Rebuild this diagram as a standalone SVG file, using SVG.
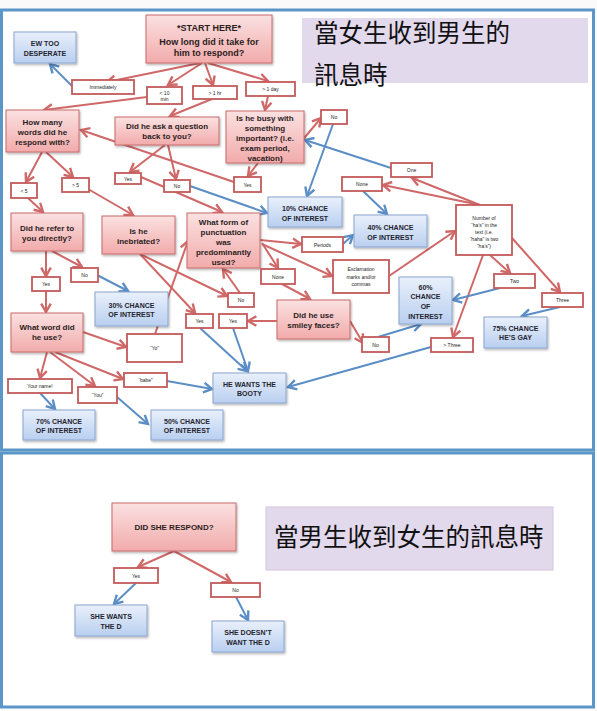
<svg xmlns="http://www.w3.org/2000/svg" width="597" height="711" viewBox="0 0 597 711">
<defs>
<linearGradient id="pink" x1="0" y1="0" x2="0" y2="1"><stop offset="0" stop-color="#fbe1e1"/><stop offset="1" stop-color="#f2abab"/></linearGradient>
<linearGradient id="blue" x1="0" y1="0" x2="0" y2="1"><stop offset="0" stop-color="#e9f0fb"/><stop offset="1" stop-color="#b9cff0"/></linearGradient>
<filter id="sh" x="-10%" y="-10%" width="130%" height="140%"><feDropShadow dx="1" dy="1.5" stdDeviation="1" flood-color="#000" flood-opacity="0.3"/></filter>
<marker id="ar" markerUnits="userSpaceOnUse" markerWidth="12" markerHeight="12" refX="8" refY="5" orient="auto" viewBox="0 0 10 10"><path d="M1,1 L8,5 L1,9" fill="none" stroke="#d06868" stroke-width="2"/></marker>
<marker id="ab" markerUnits="userSpaceOnUse" markerWidth="12" markerHeight="12" refX="8" refY="5" orient="auto" viewBox="0 0 10 10"><path d="M1,1 L8,5 L1,9" fill="none" stroke="#5b8ec6" stroke-width="2"/></marker>
<style>
.q{fill:url(#pink);stroke:#c96a6a;stroke-width:1;filter:url(#sh)}
.o{fill:url(#blue);stroke:#8aa6cf;stroke-width:1;filter:url(#sh)}
.l{fill:#fff;stroke:#c45a5a;stroke-width:1.8}
.qt{font-family:"Liberation Sans",Arial,sans-serif;font-weight:bold;font-size:8px;text-anchor:middle;fill:#2b1d1d}
.ot{font-family:"Liberation Sans",Arial,sans-serif;font-weight:bold;font-size:7px;text-anchor:middle;fill:#1f2430}
.lt{font-family:"Liberation Sans",Arial,sans-serif;font-size:5px;text-anchor:middle;fill:#222}
.tt{font-family:"Noto Sans CJK TC","Noto Sans CJK SC",sans-serif;font-size:24.5px;fill:#111}
.cr{fill:none;stroke:#d06868;stroke-width:2;marker-end:url(#ar)}
.cb{fill:none;stroke:#5b8ec6;stroke-width:2;marker-end:url(#ab)}
.fr{fill:#fff;stroke:#5a96c8;stroke-width:3}
</style>
</defs>
<rect x="0" y="0" width="597" height="711" fill="#fafafa"/>
<rect class="fr" x="1.5" y="10" width="592" height="440"/>
<rect class="fr" x="1.5" y="453" width="592" height="254"/>

<g id="connectors">
<path class="cr" d="M200,63 L107,82"/>
<path class="cr" d="M202,63 L168,85"/>
<path class="cr" d="M205,63 L213,85"/>
<path class="cr" d="M208,63 L268,81"/>
<path class="cr" d="M147,97 L44,110"/>
<path class="cr" d="M212,99 L170,116"/>
<path class="cr" d="M268,96 L265,110"/>
<path class="cr" d="M300,143 L321,118"/>
<path class="cr" d="M258,163 L248,176"/>
<path class="cr" d="M165,145 L130,172"/>
<path class="cr" d="M168,145 L176,179"/>
<path class="cr" d="M234,182 L81,130"/>
<path class="cr" d="M141,177 L222,212"/>
<path class="cr" d="M42,152 L26,182"/>
<path class="cr" d="M46,152 L73,177"/>
<path class="cr" d="M28,198 L43,212"/>
<path class="cr" d="M88,189 L133,215"/>
<path class="cr" d="M46,251 L46,276"/>
<path class="cr" d="M52,251 L82,267"/>
<path class="cr" d="M46,291 L46,312"/>
<path class="cr" d="M140,254 L227,296"/>
<path class="cr" d="M140,254 L195,313"/>
<path class="cr" d="M240,293 L223,269"/>
<path class="cr" d="M260,240 L301,244"/>
<path class="cr" d="M262,243 L278,268"/>
<path class="cr" d="M262,244 L332,276"/>
<path class="cr" d="M282,284 L310,299"/>
<path class="cr" d="M389,276 L455,231"/>
<path class="cr" d="M480,205 L412,178"/>
<path class="cr" d="M480,205 L383,185"/>
<path class="cr" d="M490,255 L510,273"/>
<path class="cr" d="M512,238 L560,292"/>
<path class="cr" d="M483,255 L453,337"/>
<path class="cr" d="M277,321 L248,321"/>
<path class="cr" d="M350,321 L363,343"/>
<path class="cr" d="M83,332 L126,347"/>
<path class="cr" d="M47,352 L40,378"/>
<path class="cr" d="M50,352 L95,386"/>
<path class="cr" d="M55,352 L123,379"/>
<path class="cr" d="M155,334 L188,241"/>
<path class="cr" d="M174,551 L138,567"/>
<path class="cr" d="M174,551 L231,582"/>
<path class="cb" d="M72,86 L50,64"/>
<path class="cb" d="M333,124 L307,196"/>
<path class="cb" d="M391,168 L305,140"/>
<path class="cb" d="M190,186 L267,213"/>
<path class="cb" d="M97,275 L128,291"/>
<path class="cb" d="M363,191 L387,214"/>
<path class="cb" d="M343,244 L353,235"/>
<path class="cb" d="M500,288 L453,300"/>
<path class="cb" d="M560,307 L522,316"/>
<path class="cb" d="M378,337 L421,324"/>
<path class="cb" d="M431,347 L288,387"/>
<path class="cb" d="M167,381 L212,389"/>
<path class="cb" d="M200,328 L247,371"/>
<path class="cb" d="M233,328 L248,371"/>
<path class="cb" d="M40,393 L55,409"/>
<path class="cb" d="M117,397 L148,424"/>
<path class="cb" d="M136,583 L114,604"/>
<path class="cb" d="M236,597 L248,620"/>
</g>

<g id="title1"><rect x="302" y="18" width="286" height="65" fill="#e3d9ed"/><text class="tt" x="314" y="42">當女生收到男生的</text><text class="tt" x="314" y="84">訊息時</text></g>
<g id="title2"><rect x="266" y="507" width="287" height="63" fill="#e3d9ed" stroke="#d2c6dd" stroke-width="1"/><text class="tt" x="274" y="546">當男生收到女生的訊息時</text></g>

<g id="start"><rect class="q" x="146" y="15" width="126" height="48"/><text class="qt" font-size="9" x="209" y="31" style="font-size:9px">*START HERE*</text><text class="qt" x="209" y="45" style="font-size:9px">How long did it take for</text><text class="qt" x="209" y="56" style="font-size:9px">him to respond?</text></g>
<g id="ew"><rect class="o" x="14" y="32" width="62" height="31"/><text class="ot" x="45" y="45.5">EW TOO</text><text class="ot" x="45" y="55.5">DESPERATE</text></g>
<g id="l-immediately"><rect class="l" x="72" y="80" width="62" height="14"/><text class="lt" x="103" y="89">Immediately</text></g>
<g id="l-10min"><rect class="l" x="147" y="87" width="35" height="17"/><text class="lt" x="164.5" y="94.5">&lt; 10</text><text class="lt" x="164.5" y="100.5">min</text></g>
<g id="l-1hr"><rect class="l" x="193" y="86" width="44" height="13"/><text class="lt" x="215" y="94.5">&gt; 1 hr</text></g>
<g id="l-1day"><rect class="l" x="246" y="82" width="49" height="14"/><text class="lt" x="270.5" y="91">&gt; 1 day</text></g>
<g id="howmany"><rect class="q" x="6" y="110" width="73" height="42"/><text class="qt" x="42.5" y="125">How many</text><text class="qt" x="42.5" y="135">words did he</text><text class="qt" x="42.5" y="144.5">respond with?</text></g>
<g id="ask"><rect class="q" x="115" y="117" width="104" height="28"/><text class="qt" x="167" y="129">Did he ask a question</text><text class="qt" x="167" y="138.5">back to you?</text></g>
<g id="busy"><rect class="q" x="226" y="111" width="78" height="52"/><text class="qt" x="265" y="121">Is he busy with</text><text class="qt" x="265" y="131">something</text><text class="qt" x="265" y="141">important? (i.e.</text><text class="qt" x="265" y="151">exam period,</text><text class="qt" x="265" y="161">vacation)</text></g>
<g id="l-busy-no"><rect class="l" x="321" y="110" width="26" height="14"/><text class="lt" x="334" y="119">No</text></g>
<g id="l-ask-yes"><rect class="l" x="115" y="173" width="26" height="11"/><text class="lt" x="128" y="180.5">Yes</text></g>
<g id="l-ask-no"><rect class="l" x="164" y="180" width="26" height="12"/><text class="lt" x="177" y="188">No</text></g>
<g id="l-busy-yes"><rect class="l" x="234" y="177" width="27" height="15"/><text class="lt" x="247.5" y="186.5">Yes</text></g>
<g id="l-lt5"><rect class="l" x="11" y="183" width="26" height="15"/><text class="lt" x="24" y="192.5">&lt; 5</text></g>
<g id="l-gt5"><rect class="l" x="62" y="178" width="27" height="14"/><text class="lt" x="75.5" y="187">&gt; 5</text></g>
<g id="refer"><rect class="q" x="11" y="213" width="72" height="38"/><text class="qt" x="47" y="231">Did he refer to</text><text class="qt" x="47" y="240.5">you directly?</text></g>
<g id="inebriated"><rect class="q" x="102" y="216" width="73" height="38"/><text class="qt" x="138.5" y="234">Is he</text><text class="qt" x="138.5" y="243.5">inebriated?</text></g>
<g id="punct"><rect class="q" x="187" y="213" width="73" height="55"/><text class="qt" x="223.5" y="225">What form of</text><text class="qt" x="223.5" y="235">punctuation</text><text class="qt" x="223.5" y="245">was</text><text class="qt" x="223.5" y="255">predominantly</text><text class="qt" x="223.5" y="265">used?</text></g>
<g id="p10"><rect class="o" x="268" y="197" width="74" height="30"/><text class="ot" x="305" y="210.5">10% CHANCE</text><text class="ot" x="305" y="220.5">OF INTEREST</text></g>
<g id="l-none-up"><rect class="l" x="342" y="177" width="40" height="14"/><text class="lt" x="362" y="186">None</text></g>
<g id="p40"><rect class="o" x="354" y="215" width="73" height="32"/><text class="ot" x="390.5" y="229.5">40% CHANCE</text><text class="ot" x="390.5" y="239.5">OF INTEREST</text></g>
<g id="l-one"><rect class="l" x="391" y="163" width="41" height="14"/><text class="lt" x="411.5" y="172">One</text></g>
<g id="numha"><rect class="l" x="456" y="205" width="56" height="50"/><text class="lt" x="484" y="220">Number of</text><text class="lt" x="484" y="227">“ha’s” in the</text><text class="lt" x="484" y="234">text (i.e.</text><text class="lt" x="484" y="241">“haha” is two</text><text class="lt" x="484" y="248">“ha’s”)</text></g>
<g id="l-periods"><rect class="l" x="302" y="237" width="41" height="15"/><text class="lt" x="322.5" y="246.5">Periods</text></g>
<g id="l-none-low"><rect class="l" x="261" y="269" width="34" height="15"/><text class="lt" x="278" y="278.5">None</text></g>
<g id="l-exclam"><rect class="l" x="333" y="260" width="56" height="33"/><text class="lt" x="361" y="270.5">Exclamation</text><text class="lt" x="361" y="278.5">marks and/or</text><text class="lt" x="361" y="286">commas</text></g>
<g id="l-two"><rect class="l" x="494" y="274" width="41" height="14"/><text class="lt" x="514.5" y="283">Two</text></g>
<g id="l-three"><rect class="l" x="542" y="293" width="41" height="14"/><text class="lt" x="562.5" y="302">Three</text></g>
<g id="p60"><rect class="o" x="399" y="277" width="53" height="47"/><text class="ot" x="425.5" y="289.5">60%</text><text class="ot" x="425.5" y="299">CHANCE</text><text class="ot" x="425.5" y="308.5">OF</text><text class="ot" x="425.5" y="318.5">INTEREST</text></g>
<g id="p75"><rect class="o" x="484" y="317" width="63" height="31"/><text class="ot" x="515.5" y="330.5">75% CHANCE</text><text class="ot" x="515.5" y="340">HE’S GAY</text></g>
<g id="l-gt3"><rect class="l" x="431" y="338" width="42" height="14"/><text class="lt" x="452" y="347">&gt; Three</text></g>
<g id="l-smiley-no"><rect class="l" x="362" y="337" width="27" height="15"/><text class="lt" x="375.5" y="346.5">No</text></g>
<g id="smiley"><rect class="q" x="277" y="300" width="73" height="39"/><text class="qt" x="313.5" y="318">Did he use</text><text class="qt" x="313.5" y="327.5">smiley faces?</text></g>
<g id="l-ineb-no"><rect class="l" x="228" y="293" width="26" height="14"/><text class="lt" x="241" y="302">No</text></g>
<g id="l-ineb-yes"><rect class="l" x="186" y="314" width="27" height="14"/><text class="lt" x="199.5" y="323">Yes</text></g>
<g id="l-smiley-yes"><rect class="l" x="219" y="314" width="28" height="14"/><text class="lt" x="233" y="323">Yes</text></g>
<g id="booty"><rect class="o" x="213" y="373" width="73" height="30"/><text class="ot" x="249.5" y="386.5">HE WANTS THE</text><text class="ot" x="249.5" y="395.5">BOOTY</text></g>
<g id="p30"><rect class="o" x="95" y="292" width="73" height="34"/><text class="ot" x="131.5" y="307.5">30% CHANCE</text><text class="ot" x="131.5" y="316.5">OF INTEREST</text></g>
<g id="l-ref-yes"><rect class="l" x="32" y="277" width="28" height="14"/><text class="lt" x="46" y="286">Yes</text></g>
<g id="l-ref-no"><rect class="l" x="71" y="268" width="27" height="14"/><text class="lt" x="84.5" y="277">No</text></g>
<g id="whatword"><rect class="q" x="11" y="313" width="72" height="39"/><text class="qt" x="47" y="330">What word did</text><text class="qt" x="47" y="340">he use?</text></g>
<g id="l-yo"><rect class="l" x="127" y="334" width="55" height="28"/><text class="lt" x="154.5" y="350">“Yo”</text></g>
<g id="l-yourname"><rect class="l" x="8" y="379" width="64" height="14"/><text class="lt" x="40" y="388">Your name!</text></g>
<g id="l-you"><rect class="l" x="78" y="387" width="39" height="16"/><text class="lt" x="97.5" y="397">“You”</text></g>
<g id="l-babe"><rect class="l" x="124" y="373" width="43" height="14"/><text class="lt" x="145.5" y="382">“babe”</text></g>
<g id="p70"><rect class="o" x="23" y="410" width="72" height="30"/><text class="ot" x="59" y="423.5">70% CHANCE</text><text class="ot" x="59" y="432.5">OF INTEREST</text></g>
<g id="p50"><rect class="o" x="151" y="410" width="72" height="30"/><text class="ot" x="187" y="423.5">50% CHANCE</text><text class="ot" x="187" y="432.5">OF INTEREST</text></g>

<g id="didshe"><rect class="q" x="112" y="503" width="124" height="48"/><text class="qt" x="174" y="530">DID SHE RESPOND?</text></g>
<g id="l-she-yes"><rect class="l" x="114" y="568" width="44" height="15"/><text class="lt" x="136" y="577.5">Yes</text></g>
<g id="l-she-no"><rect class="l" x="211" y="583" width="49" height="14"/><text class="lt" x="235.5" y="592">No</text></g>
<g id="shewants"><rect class="o" x="75" y="605" width="72" height="31"/><text class="ot" x="111" y="618.5">SHE WANTS</text><text class="ot" x="111" y="628.5">THE D</text></g>
<g id="shedoesnt"><rect class="o" x="212" y="621" width="72" height="31"/><text class="ot" x="248" y="634.5">SHE DOESN’T</text><text class="ot" x="248" y="644.5">WANT THE D</text></g>
</svg>
